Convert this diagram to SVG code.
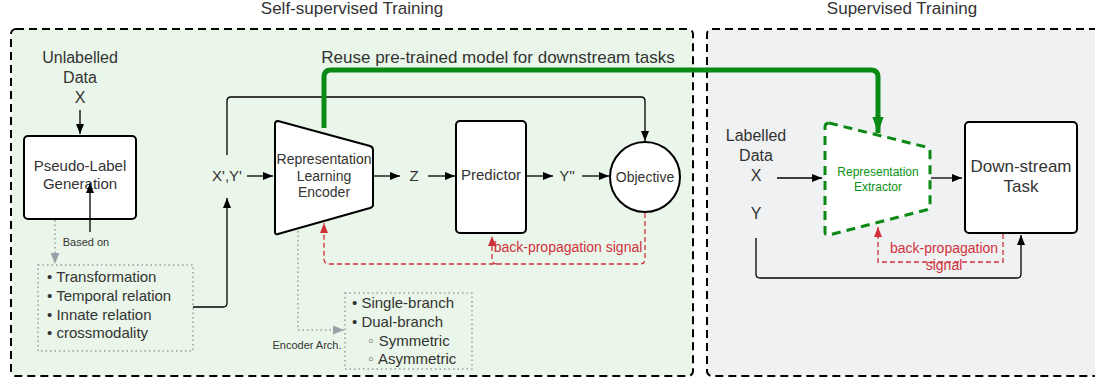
<svg xmlns="http://www.w3.org/2000/svg" width="1095" height="381" viewBox="0 0 1095 381">
<defs>
<style>
text{font-family:"Liberation Sans",Arial,sans-serif;fill:#333;text-anchor:middle}
.t17{font-size:17px}.t16{font-size:16px}.t15{font-size:15px}.t14{font-size:14px}.t13{font-size:13px}.t11{font-size:11px}
.red{fill:#d0323c}
.grn{fill:#0a9216}
.node{fill:#fff;stroke:#000;stroke-width:2}
.blk{fill:none;stroke:#000;stroke-width:1.3}
.rd{fill:none;stroke:#d0323c;stroke-width:1.3;stroke-dasharray:5 3}
.gd{fill:none;stroke:#9aa0a8;stroke-width:1.5;stroke-dasharray:1.5 3}
.lst{text-anchor:start;font-size:15px}
.sb{font-family:"DejaVu Sans",sans-serif;font-size:13px;fill:#333}
</style>
<marker id="ab" viewBox="0 0 10 10" refX="10" refY="5" markerWidth="10" markerHeight="10" markerUnits="userSpaceOnUse" orient="auto"><path d="M0,1 L10,5 L0,9 z" fill="#000"/></marker>
<marker id="ar" viewBox="0 0 10 10" refX="10" refY="5" markerWidth="10" markerHeight="10" markerUnits="userSpaceOnUse" orient="auto"><path d="M0,1 L10,5 L0,9 z" fill="#d0323c"/></marker>
<marker id="ag" viewBox="0 0 10 10" refX="10" refY="5" markerWidth="11" markerHeight="11" markerUnits="userSpaceOnUse" orient="auto"><path d="M0,1 L10,5 L0,9 z" fill="#9aa0a8"/></marker>
<marker id="agr" viewBox="0 0 10 10" refX="10" refY="5" markerWidth="16" markerHeight="16" markerUnits="userSpaceOnUse" orient="auto"><path d="M0,1.5 L10,5 L0,8.5 z" fill="#0a8a14"/></marker>
</defs>

<g id="containers">
<rect x="11" y="29" width="682" height="347" rx="5" fill="#e9f6e9" stroke="#000" stroke-width="2" stroke-dasharray="8 5"/>
<rect x="707" y="29" width="392" height="347" rx="5" fill="#f0f1f3" stroke="#000" stroke-width="2" stroke-dasharray="8 5"/>
<text class="t17" x="352" y="14">Self-supervised Training</text>
<text class="t17" x="902" y="14">Supervised Training</text>
</g>

<g id="unlabelled">
<text class="t16" x="80" y="63">Unlabelled</text>
<text class="t16" x="80" y="83">Data</text>
<text class="t16" x="80" y="103">X</text>
</g>

<g id="pseudo-label">
<rect class="node" x="24" y="136" width="112" height="83" rx="4"/>
<text class="t15" x="80" y="171">Pseudo-Label</text>
<text class="t15" x="80" y="189">Generation</text>
</g>

<g id="pseudo-list">
<rect x="38" y="265" width="155" height="86" fill="none" stroke="#9aa0a8" stroke-width="1.5" stroke-dasharray="1.5 3"/>
<text class="lst" x="47" y="282">• Transformation</text>
<text class="lst" x="47" y="301">• Temporal relation</text>
<text class="lst" x="47" y="320">• Innate relation</text>
<text class="lst" x="47" y="338">• crossmodality</text>
</g>

<g id="xy">
<text class="t15" x="227" y="181">X',Y'</text>
</g>

<g id="encoder">
<path class="node" d="M278,121 L370,146 Q373,147 373,150 V205 Q373,207 370,208 L278,234 Q275,235 275,232 V124 Q275,121 278,121 Z"/>
<text class="t14" x="324" y="164">Representation</text>
<text class="t14" x="324" y="181">Learning</text>
<text class="t14" x="324" y="197">Encoder</text>
</g>

<g id="z"><text class="t15" x="414" y="181">Z</text></g>

<g id="predictor">
<rect class="node" x="456" y="121" width="70" height="112" rx="4"/>
<text class="t15" x="491" y="180">Predictor</text>
</g>

<g id="ypp"><text class="t15" x="567" y="181">Y''</text></g>

<g id="objective">
<circle class="node" cx="645" cy="177" r="35"/>
<text class="t14" x="645" y="182">Objective</text>
</g>

<g id="arch-list">
<rect x="345" y="293" width="127" height="76" fill="none" stroke="#9aa0a8" stroke-width="1.5" stroke-dasharray="1.5 3"/>
<text class="lst" x="352" y="308">• Single-branch</text>
<text class="lst" x="352" y="327">• Dual-branch</text>
<text class="lst" x="367" y="346"><tspan class="sb">◦</tspan> Symmetric</text>
<text class="lst" x="367" y="364"><tspan class="sb">◦</tspan> Asymmetric</text>
</g>

<g id="labelled">
<text class="t16" x="756" y="141">Labelled</text>
<text class="t16" x="756" y="161">Data</text>
<text class="t16" x="756" y="181">X</text>
</g>
<g id="y"><text class="t16" x="756" y="219">Y</text></g>

<g id="extractor">
<path d="M829,123 L926,147 Q930,148 930,152 V206 Q930,209 926,210 L829,235 Q825,236 825,232 V127 Q825,123 829,123 Z" fill="#fff" stroke="#0a8a14" stroke-width="3" stroke-dasharray="9 6"/>
<text class="grn" x="878" y="176" style="font-size:12px">Representation</text>
<text class="grn" x="878" y="191" style="font-size:12px">Extractor</text>
</g>

<g id="downstream">
<rect class="node" x="965" y="122" width="112" height="111" rx="4"/>
<text class="t17" x="1021" y="172">Down-stream</text>
<text class="t17" x="1021" y="192">Task</text>
</g>

<g id="connectors">
<path class="blk" d="M80,110 V134" marker-end="url(#ab)"/>
<path class="blk" d="M90,232 V183" marker-end="url(#ab)"/>
<text class="t11" x="86" y="246">Based on</text>
<path class="gd" d="M55,220 V264" marker-end="url(#ag)"/>
<path class="blk" d="M193,307 H223 Q227,307 227,303 V198" marker-end="url(#ab)"/>
<path class="blk" d="M227,155 V101 Q227,97 231,97 H641 Q645,97 645,101 V141" marker-end="url(#ab)"/>
<path class="blk" d="M247,176 H273" marker-end="url(#ab)"/>
<path class="blk" d="M373,176 H400" marker-end="url(#ab)"/>
<path class="blk" d="M428,176 H455" marker-end="url(#ab)"/>
<path class="blk" d="M527,176 H553" marker-end="url(#ab)"/>
<path class="blk" d="M582,176 H609" marker-end="url(#ab)"/>
<path class="rd" d="M645,213 V259 Q645,264 640,264 H329 Q324,264 324,259 V223" marker-end="url(#ar)"/>
<path class="rd" d="M497,264 Q492,264 492,259 V236" marker-end="url(#ar)"/>
<text class="t14 red" x="568" y="252">back-propagation signal</text>
<path class="gd" d="M298,231 V330 H344" marker-end="url(#ag)"/>
<text class="t11" x="307" y="349">Encoder Arch.</text>
<path d="M324,128 V77 Q324,70 331,70 H871 Q878,70 878,77 V133" fill="none" stroke="#0a8a14" stroke-width="5" marker-end="url(#agr)"/>
<text class="t17" x="498" y="63">Reuse pre-trained model for downstream tasks</text>
<path class="blk" d="M777,178 H822" marker-end="url(#ab)"/>
<path class="blk" d="M931,178 H962" marker-end="url(#ab)"/>
<path class="blk" d="M756,238 V274 Q756,278 760,278 H1017 Q1021,278 1021,274 V235" marker-end="url(#ab)"/>
<path class="rd" d="M1003,234 V262 H878 V227" marker-end="url(#ar)"/>
<text class="t14 red" x="944" y="253">back-propagation</text>
<text class="t14 red" x="944" y="270">signal</text>
</g>
</svg>
